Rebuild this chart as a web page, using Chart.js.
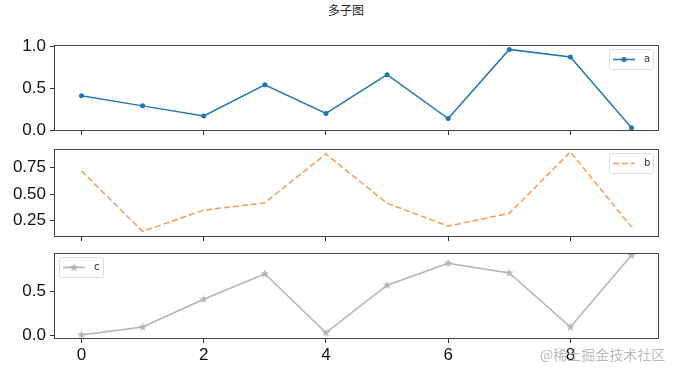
<!DOCTYPE html>
<html>
<head>
<meta charset="utf-8">
<script src="https://cdn.jsdelivr.net/npm/chart.js@4.4.0/dist/chart.umd.min.js"></script>
<style>
body { margin: 0; background: #fff; width: 679px; height: 372px; overflow: hidden; position: relative; }
canvas { position: absolute; left: 0; }
#title { position: absolute; left: 328px; top: 2px; font: 12px "Noto Sans CJK SC"; line-height: 16px; color: #222; }
#mark { position: absolute; left: 540px; top: 345px; font: 14px "Noto Sans CJK SC"; line-height: 18px; color: #bbb; }
</style>
</head>
<body>
<div id="title">多子图</div>
<canvas id="p1" width="679" height="105" style="top:35px"></canvas>
<canvas id="p2" width="679" height="106" style="top:140px"></canvas>
<canvas id="p3" width="679" height="125" style="top:244px"></canvas>
<div id="mark">@稀土掘金技术社区</div>
<script>
// data
var xValues = [0, 1, 2, 3, 4, 5, 6, 7, 8, 9];
var xTicks = [0, 2, 4, 6, 8];
var seriesA = [0.41, 0.29, 0.17, 0.54, 0.20, 0.66, 0.14, 0.96, 0.87, 0.03];
var seriesB = [0.72, 0.15, 0.35, 0.42, 0.88, 0.415, 0.20, 0.32, 0.90, 0.19];
var seriesC = [0.005, 0.095, 0.41, 0.70, 0.03, 0.57, 0.82, 0.71, 0.095, 0.91];
var ticksA = [0, 0.5, 1.0];
var ticksB = [0.25, 0.5, 0.75];
var ticksC = [0, 0.5];

var starImage = function(color, r) {
	var c = document.createElement('canvas');
	var s = Math.ceil(r * 2) + 2;
	c.width = c.height = s;
	var g = c.getContext('2d');
	g.fillStyle = color;
	g.beginPath();
	for (var i = 0; i < 10; i++) {
		var rad = i % 2 ? r * 0.42 : r;
		var ang = -Math.PI / 2 + i * Math.PI / 5;
		g.lineTo(s / 2 + rad * Math.cos(ang), s / 2 + rad * Math.sin(ang));
	}
	g.closePath();
	g.fill();
	return c;
};

var framePlugin = {
	id: 'frame',
	afterDraw: function(chart) {
		var a = chart.chartArea, ctx = chart.ctx;
		ctx.save();
		ctx.strokeStyle = '#444';
		ctx.lineWidth = 1;
		ctx.strokeRect(Math.round(a.left) + 0.5, Math.round(a.top) + 0.5,
			Math.round(a.right - a.left) - 1, Math.round(a.bottom - a.top) - 1);
		ctx.restore();
	}
};

var legendPlugin = {
	id: 'boxLegend',
	afterDraw: function(chart, args, o) {
		var ctx = chart.ctx, a = chart.chartArea, ds = chart.data.datasets[0];
		var w = 44, h = 20;
		var x = o.side === 'left' ? Math.round(a.left) + 5 : Math.round(a.right) - w - 6;
		var y = Math.round(a.top) + 4;
		ctx.save();
		ctx.fillStyle = 'rgba(255,255,255,0.85)';
		ctx.strokeStyle = '#dddddd';
		ctx.lineWidth = 1;
		ctx.beginPath();
		if (ctx.roundRect) ctx.roundRect(x + 0.5, y + 0.5, w, h, 2); else ctx.rect(x + 0.5, y + 0.5, w, h);
		ctx.fill();
		ctx.stroke();
		var my = y + h / 2 + 0.5;
		ctx.strokeStyle = ds.borderColor;
		ctx.lineWidth = ds.borderWidth;
		ctx.setLineDash(ds.borderDash || []);
		ctx.beginPath();
		ctx.moveTo(x + 4, my);
		ctx.lineTo(x + 26, my);
		ctx.stroke();
		ctx.setLineDash([]);
		if (ds.pointStyle && typeof ds.pointStyle === 'object') {
			var im = ds.pointStyle;
			ctx.drawImage(im, x + 15 - im.width / 2, my - im.height / 2);
		} else if (ds.pointRadius > 0) {
			ctx.fillStyle = ds.borderColor;
			ctx.beginPath();
			ctx.arc(x + 15, my, ds.pointRadius, 0, Math.PI * 2);
			ctx.fill();
		}
		ctx.fillStyle = '#333';
		ctx.font = '10px "DejaVu Sans"';
		ctx.textBaseline = 'middle';
		ctx.fillText(ds.label, x + 35, my);
		ctx.restore();
	}
};

var makePanel = function(id, label, values, style, yMin, yMax, yTicks, decimals, showX, padTop, xHeight, side) {
	var points = values.map(function(v, i) { return { x: xValues[i], y: v }; });
	var ds = {
		label: label,
		data: points,
		borderColor: style.color,
		backgroundColor: style.color,
		borderWidth: 1.5,
		borderDash: style.dash,
		pointRadius: style.radius,
		pointHoverRadius: style.radius,
		pointStyle: style.point,
		pointBorderWidth: 0,
		tension: 0
	};
	var config = {
		type: 'line',
		data: { datasets: [ds] },
		plugins: [framePlugin, legendPlugin],
		options: {
			responsive: false,
			animation: false,
			events: [],
			layout: { padding: { top: padTop, right: 20, left: 0, bottom: 0 } },
			plugins: {
				legend: { display: false },
				tooltip: { enabled: false },
				boxLegend: { side: side }
			},
			scales: {
				x: {
					type: 'linear',
					min: -0.45,
					max: 9.45,
					afterBuildTicks: function(scale) {
						scale.ticks = xTicks.map(function(v) { return { value: v }; });
					},
					afterFit: function(scale) {
						scale.height = xHeight;
						scale.paddingLeft = 0;
						scale.paddingRight = 0;
					},
					border: { display: false },
					grid: { drawOnChartArea: false, drawTicks: true, tickLength: 4, color: '#333', lineWidth: 1 },
					ticks: {
						display: showX,
						padding: 2,
						color: '#111',
						font: { family: 'Liberation Sans', size: 17 },
						maxRotation: 0
					}
				},
				y: {
					min: yMin,
					max: yMax,
					afterBuildTicks: function(scale) {
						scale.ticks = yTicks.map(function(v) { return { value: v }; });
					},
					afterFit: function(scale) {
						scale.width = 54;
						scale.paddingTop = 0;
						scale.paddingBottom = 0;
					},
					border: { display: false },
					grid: { drawOnChartArea: false, drawTicks: true, tickLength: 4, color: '#333', lineWidth: 1 },
					ticks: {
						padding: 4,
						color: '#111',
						font: { family: 'Liberation Sans', size: 17 },
						callback: function(v) { return Number(v).toFixed(decimals); }
					}
				}
			}
		}
	};
	return new Chart(document.getElementById(id).getContext('2d'), config);
};

var chartA = makePanel('p1', 'a', seriesA, { color: '#1f77b4', dash: [], radius: 2.5, point: 'circle' },
	-0.008, 1.012, ticksA, 1, false, 10, 9, 'right');
var chartB = makePanel('p2', 'b', seriesB, { color: '#f99a4c', dash: [6, 3], radius: 0, point: 'circle' },
	0.097, 0.927, ticksB, 2, false, 9, 9, 'right');
var chartC = makePanel('p3', 'c', seriesC, { color: '#b3b3b3', dash: [], radius: 4, point: starImage('#b3b3b3', 4.5) },
	-0.041, 0.936, ticksC, 1, true, 9, 30, 'left');
</script>
</body>
</html>
